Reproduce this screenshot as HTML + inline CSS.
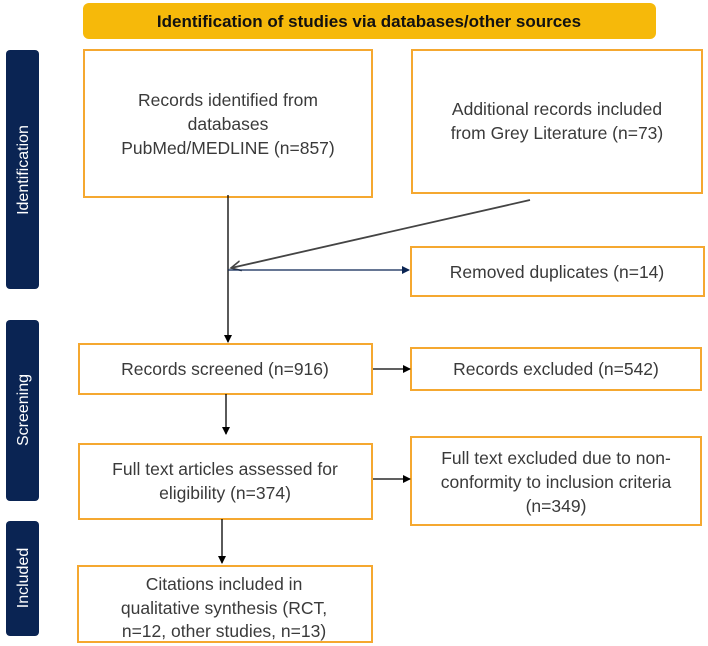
<!DOCTYPE html>
<html><head><meta charset="utf-8"><style>
html,body{margin:0;padding:0;background:#fff;}
svg{display:block;}
text{font-family:"Liberation Sans",Arial,sans-serif;}
.b{fill:#fff;stroke:#f5a830;stroke-width:2;}
.t{font-size:17.5px;fill:#3a3a3a;text-anchor:middle;}
.s{font-size:16px;fill:#fff;text-anchor:middle;}
</style></head><body>
<svg width="708" height="646" viewBox="0 0 708 646" xmlns="http://www.w3.org/2000/svg">
<defs>
<marker id="a" markerWidth="8" markerHeight="8" refX="7" refY="4" orient="auto" markerUnits="userSpaceOnUse"><path d="M0,0 L8,4 L0,8 z" fill="#000"/></marker>
<marker id="n" markerWidth="8" markerHeight="8" refX="7" refY="4" orient="auto" markerUnits="userSpaceOnUse"><path d="M0,0 L8,4 L0,8 z" fill="#0a2453"/></marker>
<marker id="g" markerWidth="12" markerHeight="12" refX="10" refY="6" orient="auto" markerUnits="userSpaceOnUse"><path d="M0,1 L10,6 L0,11" fill="none" stroke="#444" stroke-width="1.6"/></marker>
</defs>
<!-- title -->
<rect x="83" y="3" width="573" height="36" rx="6" fill="#f6b90a"/>
<text x="369" y="27" font-size="17" font-weight="bold" text-anchor="middle" fill="#111">Identification of studies via databases/other sources</text>
<!-- sidebars -->
<rect x="6" y="50" width="33" height="239" rx="4" fill="#0a2453"/>
<text class="s" transform="translate(28,170) rotate(-90)">Identification</text>
<rect x="6" y="320" width="33" height="181" rx="4" fill="#0a2453"/>
<text class="s" transform="translate(28,410) rotate(-90)">Screening</text>
<rect x="6" y="521" width="33" height="115" rx="4" fill="#0a2453"/>
<text class="s" transform="translate(28,578) rotate(-90)">Included</text>
<!-- boxes -->
<rect class="b" x="84" y="50" width="288" height="147"/>
<text class="t" x="228" y="106">Records identified from</text>
<text class="t" x="228" y="130">databases</text>
<text class="t" x="228" y="154">PubMed/MEDLINE (n=857)</text>
<rect class="b" x="412" y="50" width="290" height="143"/>
<text class="t" x="557" y="115">Additional records included</text>
<text class="t" x="557" y="139">from Grey Literature (n=73)</text>
<rect class="b" x="411" y="247" width="293" height="49"/>
<text class="t" x="557" y="278">Removed duplicates (n=14)</text>
<rect class="b" x="79" y="344" width="293" height="50"/>
<text class="t" x="225" y="375">Records screened (n=916)</text>
<rect class="b" x="411" y="348" width="290" height="42"/>
<text class="t" x="556" y="375">Records excluded (n=542)</text>
<rect class="b" x="79" y="444" width="293" height="75"/>
<text class="t" x="225" y="475">Full text articles assessed for</text>
<text class="t" x="225" y="499">eligibility (n=374)</text>
<rect class="b" x="411" y="437" width="290" height="88"/>
<text class="t" x="556" y="464">Full text excluded due to non-</text>
<text class="t" x="556" y="488">conformity to inclusion criteria</text>
<text class="t" x="556" y="512">(n=349)</text>
<rect class="b" x="78" y="566" width="294" height="76"/>
<text class="t" x="224" y="590">Citations included in</text>
<text class="t" x="224" y="614">qualitative synthesis (RCT,</text>
<text class="t" x="224" y="637">n=12, other studies, n=13)</text>
<!-- connectors -->
<line x1="228" y1="195" x2="228" y2="342" stroke="#000" stroke-width="1.3" marker-end="url(#a)"/>
<line x1="530" y1="200" x2="231" y2="268" stroke="#444" stroke-width="1.8" marker-end="url(#g)"/>
<line x1="228" y1="270" x2="409" y2="270" stroke="#0a2453" stroke-width="1.2" marker-end="url(#n)"/>
<line x1="373" y1="369" x2="410" y2="369" stroke="#000" stroke-width="1.3" marker-end="url(#a)"/>
<line x1="226" y1="394" x2="226" y2="434" stroke="#000" stroke-width="1.3" marker-end="url(#a)"/>
<line x1="373" y1="479" x2="410" y2="479" stroke="#000" stroke-width="1.3" marker-end="url(#a)"/>
<line x1="222" y1="519" x2="222" y2="563" stroke="#000" stroke-width="1.3" marker-end="url(#a)"/>
</svg>
</body></html>
